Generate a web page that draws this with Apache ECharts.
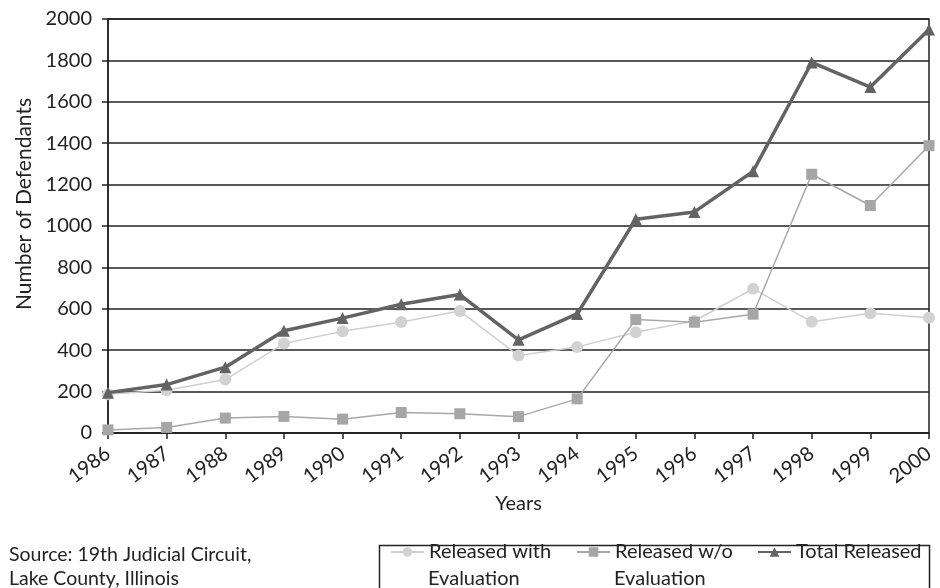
<!DOCTYPE html>
<html><head><meta charset="utf-8">
<script src="https://cdn.jsdelivr.net/npm/echarts@6/dist/echarts.min.js"></script>
<style>html,body{margin:0;padding:0;background:#fff}#c{width:940px;height:588px}</style>
</head><body><div id="c"></div>
<script>
const years = ['1986','1987','1988','1989','1990','1991','1992','1993','1994','1995','1996','1997','1998','1999','2000'];
const withEval = [187,206,258,432,491,536,589,374,416,487,541,697,537,578,557];
const withoutEval = [15,27,72,80,67,99,93,79,165,548,535,574,1250,1099,1388];
const totalReleased = [195,234,318,494,555,622,669,450,575,1033,1068,1264,1790,1671,1949];
const yTicks = {min:0, max:2000, interval:200};

const FONT = 'Lato';
const TXT = '#222';
const chart = echarts.init(document.getElementById('c'));
const legendBase = {
  top: 542, padding: 0, itemWidth: 33, itemHeight: 12, itemGap: 0,
  textStyle: {fontFamily: FONT, fontSize: 20, color: TXT},
  formatter: n => n === 'Released with Evaluation' ? 'Released with' :
                 n === 'Released w/o Evaluation' ? 'Released w/o' : n
};
chart.setOption({
  animation: false,
  backgroundColor: '#fff',
  grid: {left: 108, right: 11, top: 19, bottom: 155, show: true, borderColor: '#222', borderWidth: 1.5},
  legend: [
    Object.assign({}, legendBase, {left: 390, data: ['Released with Evaluation']}),
    Object.assign({}, legendBase, {left: 576, data: ['Released w/o Evaluation']}),
    Object.assign({}, legendBase, {left: 757, data: ['Total Released']})
  ],
  graphic: [
    {type: 'rect', left: 377, top: 543, shape: {width: 550, height: 70}, style: {fill: 'none', stroke: '#222', lineWidth: 1.5}, z: -1},
    {type: 'text', x: 428, y: 579, style: {text: 'Evaluation', font: '20px ' + FONT, fill: TXT, verticalAlign: 'middle', textVerticalAlign: 'middle'}},
    {type: 'text', x: 614, y: 579, style: {text: 'Evaluation', font: '20px ' + FONT, fill: TXT, verticalAlign: 'middle', textVerticalAlign: 'middle'}},
    {type: 'text', left: 9, top: 543, style: {text: 'Source: 19th Judicial Circuit,\nLake County, Illinois', font: '19.5px ' + FONT, fill: TXT, lineHeight: 24}},
    {type: 'text', x: 24, y: 204, rotation: Math.PI / 2,
     style: {text: 'Number of Defendants', font: '21px ' + FONT, fill: TXT, align: 'center', verticalAlign: 'middle', textAlign: 'center', textVerticalAlign: 'middle'}}
  ],
  xAxis: {
    type: 'category', data: years, boundaryGap: false,
    name: 'Years', nameLocation: 'middle', nameGap: 60,
    nameTextStyle: {fontFamily: FONT, fontSize: 20, color: TXT},
    axisLine: {lineStyle: {color: '#222', width: 1.5}},
    axisTick: {show: true, length: 6, alignWithLabel: true, lineStyle: {color: '#222', width: 1.5}},
    axisLabel: {rotate: 37, fontFamily: FONT, fontSize: 20, color: TXT, margin: 18, interval: 0}
  },
  yAxis: {
    type: 'value', min: yTicks.min, max: yTicks.max, interval: yTicks.interval,
    axisLine: {show: true, lineStyle: {color: '#222', width: 1.5}},
    axisTick: {show: true, length: 6, lineStyle: {color: '#222', width: 1.5}},
    axisLabel: {fontFamily: FONT, fontSize: 20, color: TXT, margin: 16, formatter: v => String(v)},
    splitLine: {lineStyle: {color: '#222', width: 1.5}}
  },
  series: [
    {name: 'Released with Evaluation', type: 'line', data: withEval, symbol: 'circle', symbolSize: 12,
     lineStyle: {color: '#cfcfcf', width: 1.5}, itemStyle: {color: '#d2d2d2'}, z: 3},
    {name: 'Released w/o Evaluation', type: 'line', data: withoutEval, symbol: 'rect', symbolSize: 11,
     lineStyle: {color: '#a8a8a8', width: 1.5}, itemStyle: {color: '#a6a6a6'}, z: 4},
    {name: 'Total Released', type: 'line', data: totalReleased, symbol: 'triangle', symbolSize: 12,
     lineStyle: {color: '#636363', width: 3.5}, itemStyle: {color: '#636363'}, z: 5}
  ]
});
</script></body></html>
